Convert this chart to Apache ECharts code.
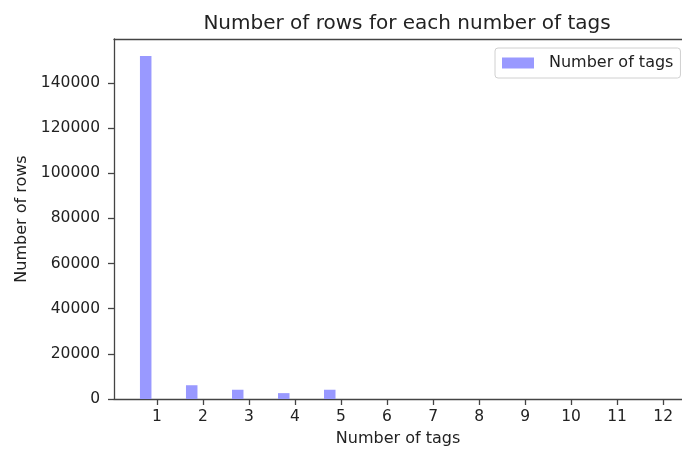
<!DOCTYPE html>
<html>
<head>
<meta charset="utf-8">
<script src="https://cdn.jsdelivr.net/npm/echarts@6/dist/echarts.min.js"></script>
<style>
html,body{margin:0;padding:0;background:#fff;overflow:hidden;}
#chart{width:682px;height:452px;}
</style>
</head>
<body>
<div id="chart"></div>
<script>
// Data
const tagCounts = [1, 2, 3, 4, 5];
const rowCounts = [152000, 6100, 4100, 2600, 4100];
const xTicks = [1, 2, 3, 4, 5, 6, 7, 8, 9, 10, 11, 12];
const yTicks = [0, 20000, 40000, 60000, 80000, 100000, 120000, 140000];
const seriesName = 'Number of tags';

const barData = tagCounts.map((t, i) => [t, rowCounts[i]]);

const chart = echarts.init(document.getElementById('chart'), null, {renderer: 'canvas'});
const font = 'DejaVu Sans';
const barColor = '#9999ff';
const spine = '#444';

chart.setOption({
  animation: false,
  backgroundColor: '#ffffff',
  title: {
    text: 'Number of rows for each number of tags',
    left: 402,
    textAlign: 'center',
    top: 9,
    textStyle: {fontFamily: font, fontSize: 20, fontWeight: 'normal', color: '#222'}
  },
  legend: {
    data: [{name: seriesName, icon: 'rect'}],
    left: 495,
    top: 48,
    itemWidth: 32,
    itemHeight: 11,
    padding: [7, 7, 7, 7],
    borderColor: '#d0d0d0',
    borderWidth: 1,
    borderRadius: 3,
    backgroundColor: '#fff',
    itemStyle: {color: barColor},
    textStyle: {fontFamily: font, fontSize: 16, color: '#222', padding: [0, 0, 0, 10], lineHeight: 15}
  },
  grid: {
    left: 114, right: -8, top: 39, bottom: 50,
    containLabel: false
  },
  xAxis: [{
    type: 'value',
    min: 0.066,
    max: 12.41,
    name: 'Number of tags',
    nameLocation: 'middle',
    nameGap: 32,
    nameTextStyle: {fontFamily: font, fontSize: 16, color: '#222'},
    splitLine: {show: false},
    axisLine: {show: true, lineStyle: {color: spine, width: 1.3}},
    axisTick: {show: true, length: 6, customValues: xTicks, lineStyle: {color: spine, width: 1.3}},
    axisLabel: {customValues: xTicks, margin: 10, fontFamily: font, fontSize: 15.5, color: '#222'}
  }, {
    type: 'value',
    position: 'top',
    min: 0.066,
    max: 12.41,
    splitLine: {show: false},
    axisLine: {show: true, lineStyle: {color: spine, width: 1.3}},
    axisTick: {show: false},
    axisLabel: {show: false}
  }],
  yAxis: {
    type: 'value',
    min: 0,
    max: 159500,
    name: 'Number of rows',
    nameLocation: 'middle',
    nameGap: 81,
    nameRotate: 90,
    nameTextStyle: {fontFamily: font, fontSize: 16, color: '#222'},
    splitLine: {show: false},
    axisLine: {show: true, lineStyle: {color: spine, width: 1.3}},
    axisTick: {show: true, length: 6, customValues: yTicks, lineStyle: {color: spine, width: 1.3}},
    axisLabel: {customValues: yTicks, margin: 14, fontFamily: font, fontSize: 15.5, color: '#222',
      formatter: function (v) { return String(v); }}
  },
  series: [{
    name: seriesName,
    type: 'custom',
    xAxisIndex: 0,
    itemStyle: {color: barColor},
    data: barData,
    encode: {x: 0, y: 1},
    renderItem: function (params, api) {
      const x = api.value(0);
      const y = api.value(1);
      const topLeft = api.coord([x - 0.37, y]);
      const bottomRight = api.coord([x - 0.12, 0]);
      return {
        type: 'rect',
        shape: {
          x: topLeft[0],
          y: topLeft[1],
          width: bottomRight[0] - topLeft[0],
          height: bottomRight[1] - topLeft[1]
        },
        style: {fill: barColor}
      };
    }
  }]
});
</script>
</body>
</html>
